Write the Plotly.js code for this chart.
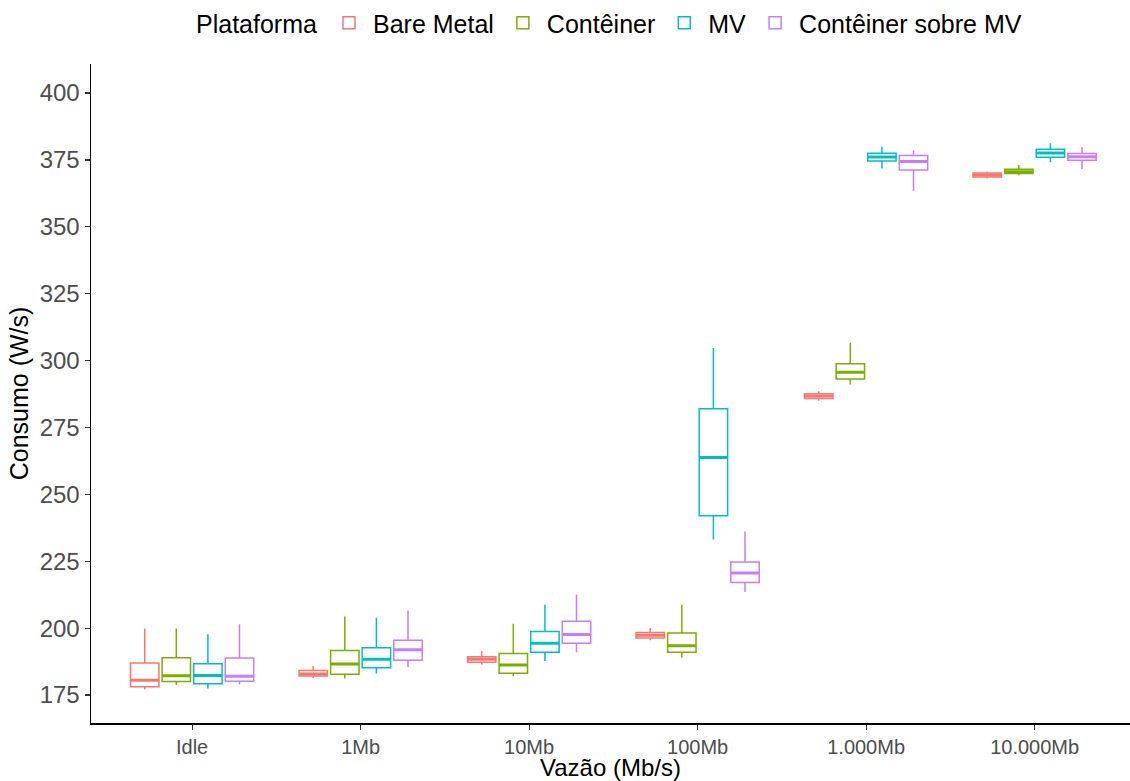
<!DOCTYPE html>
<html>
<head>
<meta charset="utf-8">
<script src="https://cdn.plot.ly/plotly-3.0.1.min.js"></script>
<style>html,body{margin:0;padding:0;background:#fff;overflow:hidden;}</style>
</head>
<body>
<div id="chart" style="width:1130px;height:781px;"></div>
<script>
const categories = ['Idle', '1Mb', '10Mb', '100Mb', '1.000Mb', '10.000Mb'];
const seriesNames = ['Bare Metal', 'Contêiner', 'MV', 'Contêiner sobre MV'];
const seriesColors = ['#F8766D', '#7CAE00', '#00BFC4', '#C77CFF'];

const bareLower  = [177.1, 181.4, 186.4, 195.5, 285.0, 368.1];
const bareQ1     = [178.1, 182.1, 187.3, 196.3, 285.8, 368.6];
const bareMedian = [180.5, 182.9, 188.4, 197.4, 286.8, 369.4];
const bareQ3     = [187.0, 184.2, 189.3, 198.4, 287.6, 370.1];
const bareUpper  = [199.9, 185.9, 191.5, 200.1, 288.5, 370.6];

const contLower  = [178.8, 181.2, 182.0, 189.0, 291.1, 369.3];
const contQ1     = [180.1, 182.8, 183.2, 191.0, 293.1, 369.9];
const contMedian = [182.2, 186.6, 186.2, 193.4, 295.6, 370.6];
const contQ3     = [189.0, 191.7, 190.5, 198.2, 298.8, 371.5];
const contUpper  = [199.9, 204.4, 201.7, 208.8, 306.7, 373.1];

const mvLower  = [177.5, 183.1, 187.7, 233.1, 371.8, 374.1];
const mvQ1     = [179.2, 185.2, 191.0, 242.0, 374.6, 376.0];
const mvMedian = [182.3, 188.4, 194.4, 263.8, 376.1, 377.6];
const mvQ3     = [186.7, 192.7, 198.8, 282.0, 377.5, 379.0];
const mvUpper  = [197.7, 203.9, 208.8, 304.7, 379.9, 381.2];

const csmvLower  = [179.0, 185.5, 191.0, 213.5, 363.4, 371.5];
const csmvQ1     = [180.2, 188.0, 194.4, 217.1, 371.2, 374.9];
const csmvMedian = [182.0, 191.9, 197.6, 220.6, 374.4, 376.2];
const csmvQ3     = [188.9, 195.5, 202.6, 224.7, 376.6, 377.4];
const csmvUpper  = [201.5, 206.6, 212.6, 236.1, 378.6, 379.8];

const yTicks = [175, 200, 225, 250, 275, 300, 325, 350, 375, 400];

const stats = [
  [bareLower, bareQ1, bareMedian, bareQ3, bareUpper],
  [contLower, contQ1, contMedian, contQ3, contUpper],
  [mvLower, mvQ1, mvMedian, mvQ3, mvUpper],
  [csmvLower, csmvQ1, csmvMedian, csmvQ3, csmvUpper]
];

const traces = [];
seriesNames.forEach((name, i) => {
  const [lo, q1, med, q3, hi] = stats[i];
  traces.push({
    type: 'box', name: name, x: categories,
    lowerfence: lo, q1: q1, median: med, q3: q3, upperfence: hi,
    offsetgroup: name,
    line: {color: seriesColors[i], width: 1.5},
    whiskerwidth: 0,
    fillcolor: 'rgba(255,255,255,1)',
    boxpoints: false, hoverinfo: 'skip'
  });
});
seriesNames.forEach((name, i) => {
  const med = stats[i][2];
  traces.push({
    type: 'box', name: name + ' mediana', x: categories,
    lowerfence: med, q1: med, median: med, q3: med, upperfence: med,
    offsetgroup: name, showlegend: false,
    line: {color: seriesColors[i], width: 3},
    whiskerwidth: 0,
    fillcolor: 'rgba(0,0,0,0)',
    boxpoints: false, hoverinfo: 'skip'
  });
});

const layout = {
  width: 1130, height: 781,
  margin: {l: 91, r: 0, t: 62, b: 58},
  paper_bgcolor: '#fff', plot_bgcolor: '#fff',
  font: {family: 'Liberation Sans, Arial, sans-serif', color: '#000'},
  boxmode: 'group', boxgap: 0.25, boxgroupgap: 0.1,
  showlegend: true,
  legend: {
    orientation: 'h', x: 0.5, xanchor: 'center', y: 1.063, yanchor: 'middle',
    font: {size: 25, color: '#000'},
    title: {text: 'Plataforma', side: 'left', font: {size: 25, color: '#000'}},
    itemwidth: 38, traceorder: 'normal'
  },
  xaxis: {
    type: 'category', categoryorder: 'array', categoryarray: categories,
    range: [-0.6, 5.566],
    showline: true, linecolor: '#000', linewidth: 1.5,
    ticks: 'outside', ticklen: 5, tickcolor: '#333', tickwidth: 1.2,
    showgrid: false, zeroline: false,
    tickfont: {size: 20, color: '#4D4D4D'},
    title: {text: 'Vazão (Mb/s)', font: {size: 24, color: '#000'}, standoff: 5}
  },
  yaxis: {
    range: [164.57, 410.84],
    tickvals: yTicks, ticktext: yTicks.map(String),
    showline: true, linecolor: '#000', linewidth: 1.5,
    ticks: 'outside', ticklen: 5, tickcolor: '#333', tickwidth: 1.2,
    showgrid: false, zeroline: false,
    tickfont: {size: 24, color: '#4D4D4D'},
    title: {text: 'Consumo (W/s)', font: {size: 25, color: '#000'}, standoff: 4}
  }
};

Plotly.newPlot('chart', traces, layout, {displayModeBar: false, staticPlot: true});
</script>
</body>
</html>
